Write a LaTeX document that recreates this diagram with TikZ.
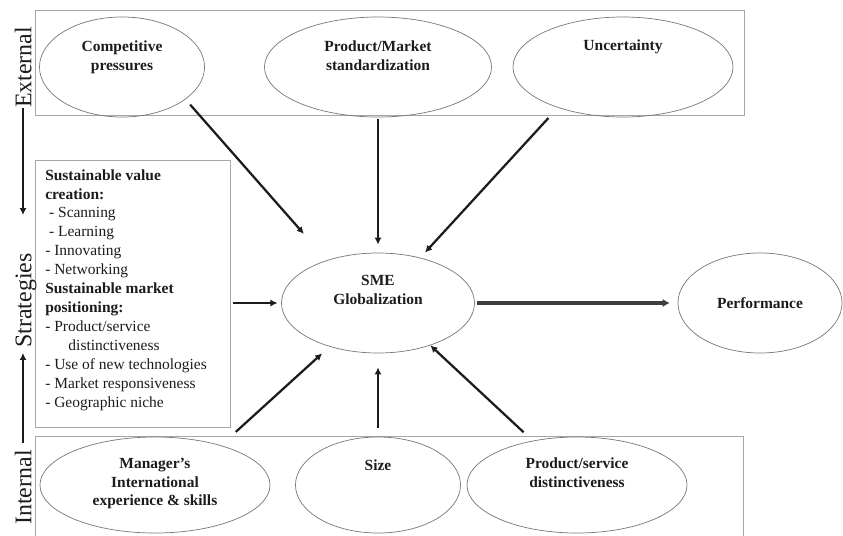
\documentclass[tikz,border=0pt]{standalone}
\usepackage{fontspec}
\setmainfont{Liberation Serif}
\usetikzlibrary{positioning,arrows.meta,shapes.geometric}
\definecolor{frame}{HTML}{A6A6A6}
\definecolor{rim}{HTML}{767676}
\definecolor{ink}{HTML}{1C1C1C}

\tikzset{
  oval/.style={draw=rim, line width=0.5pt, ellipse, minimum height=2.5cm, inner sep=0pt},
  ovaltext/.style={font=\bfseries\fontsize{11}{13.5}\selectfont, text=ink, align=center, inner sep=0pt},
  sidelabel/.style={rotate=90, font=\fontsize{17}{19}\selectfont, text=ink, inner sep=0pt, text height=12pt, text depth=0pt},
  link/.style={draw=ink, line width=1.6pt, -{Latex[length=5pt,width=5pt]}},
}

\begin{document}
\begin{tikzpicture}[x=0.025cm, y=-0.025cm]
\useasboundingbox (0,0) rectangle (843,535);
% factor groups
\draw[frame, line width=0.6pt] (35,10) rectangle (744,115);
\draw[frame, line width=0.6pt] (35,436) rectangle (743,537);
\node[draw=frame, line width=0.6pt, anchor=north west, minimum width=4.875cm, minimum height=6.675cm, inner sep=0pt] (stratbox) at (35,160) {};
% side labels
\node[sidelabel] (extlbl) at (23,67.5) {External};
\node[sidelabel] (strlbl) at (23,300.5) {Strategies};
\node[sidelabel] (intlbl) at (23,487.5) {Internal};
\draw[link, shorten >=0.95cm] (extlbl.west) -- (strlbl.east);
\draw[link, shorten <=0.175cm, shorten >=0.125cm] (intlbl.east) -- (strlbl.west);
% external factors
\node[oval, minimum width=4.125cm] (cp) at (122,67) {};
\node[ovaltext, below=0.6cm of cp.north] (cptext) {Competitive\\pressures};
\node[oval, minimum width=5.675cm] (pm) at (378,67) {};
\node[ovaltext, below=0.6cm of pm.north] (pmtext) {Product/Market\\standardization};
\node[oval, minimum width=5.5cm] (unc) at (623,67) {};
\node[ovaltext, below=0.58cm of unc.north] (unctext) {Uncertainty};
% centre and outcome
\node[oval, minimum width=4.825cm] (sme) at (378,303) {};
\node[ovaltext, below=0.57cm of sme.north] (smetext) {SME\\Globalization};
\node[oval, minimum width=4.1cm] (perf) at (760,303) {};
\node[ovaltext] (perftext) at (perf) {Performance};
% internal factors
\node[oval, minimum width=5.75cm, minimum height=2.4cm] (mgr) at (155,485) {};
\node[ovaltext, below=0.52cm of mgr.north] (mgrtext) {Manager's\\International\\experience \& skills};
\node[oval, minimum width=4.125cm, minimum height=2.4cm] (size) at (378,485) {};
\node[ovaltext, below=0.57cm of size.north] (sizetext) {Size};
\node[oval, minimum width=5.5cm, minimum height=2.4cm] (psd) at (577,485) {};
\node[ovaltext, below=0.52cm of psd.north] (psdtext) {Product/service\\distinctiveness};
% strategy list
\node[anchor=north west, align=left, inner sep=0pt, font=\fontsize{11}{13.5}\selectfont, text=ink] (strtext) at (45,169)
  {\textbf{Sustainable value}\\
   \textbf{creation:}\\
   \hspace{0.25em}- Scanning\\
   \hspace{0.25em}- Learning\\
   - Innovating\\
   - Networking\\
   \textbf{Sustainable market}\\
   \textbf{positioning:}\\
   - Product/service\\
   \hspace{1.5em}distinctiveness\\
   - Use of new technologies\\
   - Market responsiveness\\
   - Geographic niche};
% influences on globalization
\draw[link, shorten <=0.175cm, shorten >=0.875cm] (cp.-27) -- (sme.140);
\draw[link, shorten <=0.05cm, shorten >=0.2cm] (pm.south) -- (sme.north);
\draw[link, shorten <=0.35cm, shorten >=0.175cm] (unc.212) -- (sme.47);
\draw[link, shorten <=0.05cm, shorten >=0.09cm] (stratbox.east |- sme.west) -- (sme.west);
\draw[link, shorten <=0.5cm, shorten >=0.25cm] (mgr.31) -- (sme.222);
\draw[link, shorten <=0.225cm, shorten >=0.35cm] (size.north) -- (sme.south);
\draw[link, shorten <=0.31cm] (psd.135) -- (sme.-39);
\draw[draw=ink!85, line width=2.8pt, -{Latex[length=5pt,width=6pt]}, shorten <=0.06cm, shorten >=0.2cm] (sme.east) -- (perf.west);
\end{tikzpicture}
\end{document}
